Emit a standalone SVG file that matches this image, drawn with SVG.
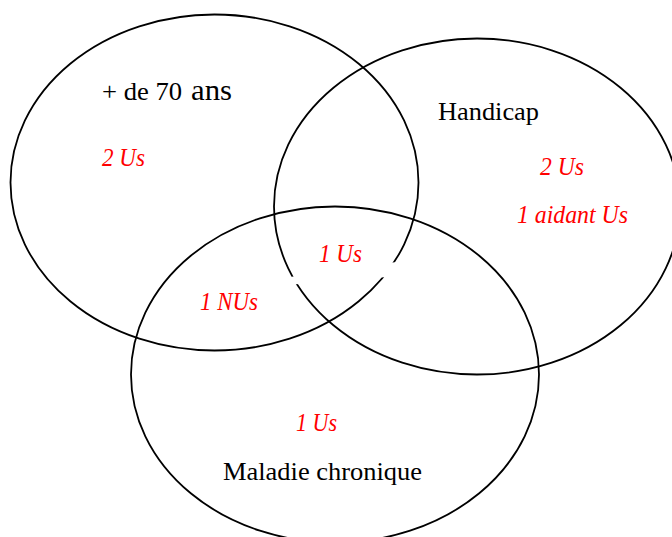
<svg xmlns="http://www.w3.org/2000/svg" width="672" height="537" viewBox="0 0 672 537">
<style>
.set{fill:none;stroke:#000;stroke-width:1.8}
.lbl{font-family:"Liberation Serif","Times New Roman",serif;fill:#000;font-size:26px}
.cnt{font-family:"Liberation Serif","Times New Roman",serif;fill:#ff0000;font-style:italic;font-size:25px}
</style>
<rect width="672" height="537" fill="#fff"/>
<g id="over70">
<ellipse class="set" cx="214.5" cy="182.5" rx="204" ry="168"/>
</g>
<g id="handicap">
<ellipse class="set" cx="477" cy="206.5" rx="203" ry="168"/>
</g>
<g id="maladie">
<ellipse class="set" cx="335" cy="374.5" rx="204" ry="168"/>
</g>
<g id="connectors"></g>
<polygon points="290,277 400,261.5 400,276 290,284.8" fill="#fff"/>
<g id="labels-over70">
<text class="lbl" x="102" y="100" textLength="80" lengthAdjust="spacingAndGlyphs">+ de 70</text>
<text class="lbl" x="191" y="100" style="font-size:30px" textLength="41" lengthAdjust="spacingAndGlyphs">ans</text>
<text class="cnt" x="102" y="166" textLength="43" lengthAdjust="spacingAndGlyphs">2 Us</text>
</g>
<g id="labels-handicap">
<text class="lbl" x="438" y="120" textLength="101" lengthAdjust="spacingAndGlyphs">Handicap</text>
<text class="cnt" x="540" y="175" textLength="44" lengthAdjust="spacingAndGlyphs">2 Us</text>
<text class="cnt" x="517" y="223" textLength="111" lengthAdjust="spacingAndGlyphs">1 aidant Us</text>
</g>
<g id="labels-intersections">
<text class="cnt" x="319" y="262" textLength="43" lengthAdjust="spacingAndGlyphs">1 Us</text>
<text class="cnt" x="200" y="310" textLength="58" lengthAdjust="spacingAndGlyphs">1 NUs</text>
</g>
<g id="labels-maladie">
<text class="cnt" x="296" y="431" textLength="41" lengthAdjust="spacingAndGlyphs">1 Us</text>
<text class="lbl" x="223" y="480" textLength="199" lengthAdjust="spacingAndGlyphs">Maladie chronique</text>
</g>
</svg>
